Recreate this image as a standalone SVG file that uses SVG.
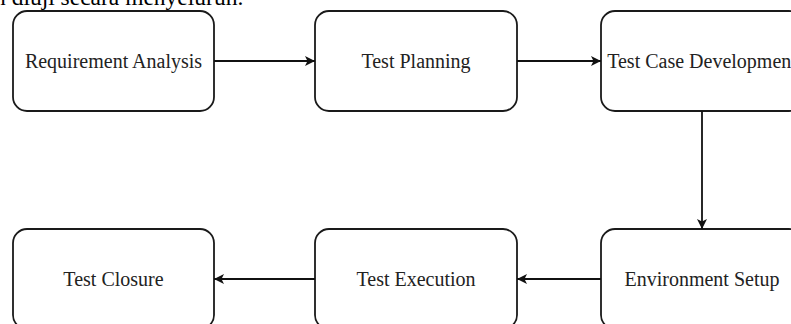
<svg xmlns="http://www.w3.org/2000/svg" width="791" height="324" viewBox="0 0 791 324">
<style>
.box{fill:#fff;stroke:#1a1a1a;stroke-width:1.8}
.lbl{font-family:"Liberation Serif","Times New Roman",serif;font-size:20px;fill:#222;text-anchor:middle}
.edge{fill:none;stroke:#111;stroke-width:1.8}
.top{font-family:"Liberation Serif","Times New Roman",serif;font-size:23.5px;fill:#000}
</style>
<defs>
<marker id="ah" viewBox="0 0 10 10" refX="10" refY="5" markerWidth="11" markerHeight="10" markerUnits="userSpaceOnUse" orient="auto">
<path d="M0,0 L10,5 L0,10 L2.5,5 Z" fill="#111"/>
</marker>
</defs>
<rect width="791" height="324" fill="#fff"/>
<text class="top" x="-6" y="5">n diuji secara menyeluruh.</text>
<g id="n1"><rect class="box" x="13" y="11" width="201" height="100" rx="14"/><text class="lbl" x="113.5" y="68">Requirement Analysis</text></g>
<g id="n2"><rect class="box" x="315" y="11" width="202" height="100" rx="14"/><text class="lbl" x="416" y="68">Test Planning</text></g>
<g id="n3"><rect class="box" x="601" y="11" width="202" height="100" rx="14"/><text class="lbl" x="702" y="68">Test Case Development</text></g>
<g id="n4"><rect class="box" x="601" y="229" width="202" height="100" rx="14"/><text class="lbl" x="702" y="286">Environment Setup</text></g>
<g id="n5"><rect class="box" x="315" y="229" width="202" height="100" rx="14"/><text class="lbl" x="416" y="286">Test Execution</text></g>
<g id="n6"><rect class="box" x="13" y="229" width="201" height="100" rx="14"/><text class="lbl" x="113.5" y="286">Test Closure</text></g>
<g id="edges">
<line class="edge" x1="214" y1="61" x2="315" y2="61" marker-end="url(#ah)"/>
<line class="edge" x1="517" y1="61" x2="601" y2="61" marker-end="url(#ah)"/>
<line class="edge" x1="702" y1="111" x2="702" y2="229" marker-end="url(#ah)"/>
<line class="edge" x1="601" y1="279" x2="517" y2="279" marker-end="url(#ah)"/>
<line class="edge" x1="315" y1="279" x2="214" y2="279" marker-end="url(#ah)"/>
</g>
</svg>
